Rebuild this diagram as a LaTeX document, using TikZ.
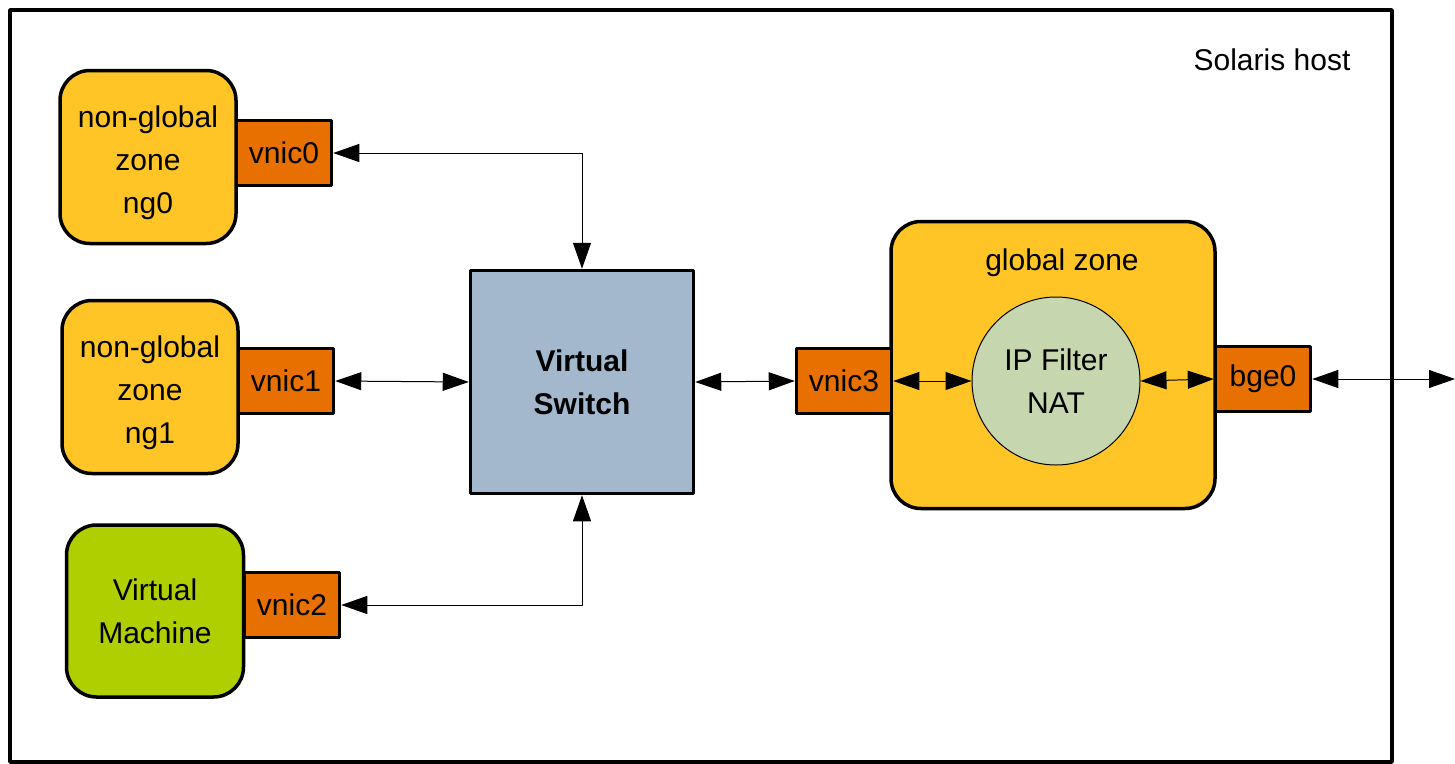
\documentclass[tikz,border=0pt]{standalone}
\usepackage{fontspec}
\setmainfont{Liberation Sans}
\usetikzlibrary{arrows.meta}
\definecolor{zoneyellow}{HTML}{FFC526}
\definecolor{vnicorange}{HTML}{E87000}
\definecolor{vmgreen}{HTML}{B0CF00}
\definecolor{switchblue}{HTML}{A3B8CC}
\definecolor{natgreen}{HTML}{C6D6AE}
\newcommand{\zonetop}{\rule{0pt}{33pt}}
\begin{document}
\begin{tikzpicture}[x=1pt,y=-1pt,line join=round,
  font=\fontsize{30}{43}\selectfont,
  >={Triangle[length=26pt,width=18pt]},
  zone/.style={draw,line width=3.5pt,rounded corners=30pt,fill=zoneyellow,align=center,inner sep=0pt},
  vnicbox/.style={draw,line width=3.5pt,fill=vnicorange,minimum width=95pt,minimum height=65pt,inner sep=0pt},
  link/.style={<->,line width=1pt}]
\useasboundingbox (0,0) rectangle (1455,763);
% host frame
\draw[line width=3.5pt] (10,10) rectangle (1392,762);
\node (host) at (1272,60) {Solaris host};
% zones on the left
\node[zone,minimum width=176pt,minimum height=173pt] (ng0) at (148,157) {\zonetop non-global\\zone\\ng0};
\node[zone,minimum width=176pt,minimum height=173pt] (ng1) at (150,387) {\zonetop non-global\\zone\\ng1};
\node[zone,fill=vmgreen,minimum width=177pt,minimum height=172pt] (vm) at (155,611) {Virtual\\Machine};
\node[vnicbox] (vnic0) at (284,153) {vnic0};
\node[vnicbox] (vnic1) at (286,381) {vnic1};
\node[vnicbox] (vnic2) at (292,605) {vnic2};
% switch
\node[draw,line width=3.5pt,fill=switchblue,minimum size=223pt,align=center,inner sep=0pt,font=\fontsize{30}{43}\selectfont\bfseries] (sw) at (582,382) {Virtual\\Switch};
% global zone
\node[zone,minimum width=324pt,minimum height=287pt] (gz) at (1053,365) {};
\node (gzlabel) at (1062,263) {global zone};
\node[circle,draw,line width=1pt,fill=natgreen,minimum size=168pt,align=center,inner sep=0pt] (nat) at (1056,381) {IP Filter\\NAT};
\node[vnicbox] (vnic3) at (844,381) {vnic3};
\node[vnicbox] (bge0) at (1263,379) {bge0};
\coordinate (uplink) at (1455,379);
% links
\draw[link] (vnic0.east) -| (sw.north);
\draw[link] (vnic1.east) -- (sw.west);
\draw[link] (vnic2.east) -| (sw.south);
\draw[link] (sw.east) -- (vnic3.west);
\draw[link] (vnic3.east) -- (nat.west);
\draw[link] (nat.east) -- (bge0.west);
\draw[link] (bge0.east) -- (uplink);
\end{tikzpicture}
\end{document}
